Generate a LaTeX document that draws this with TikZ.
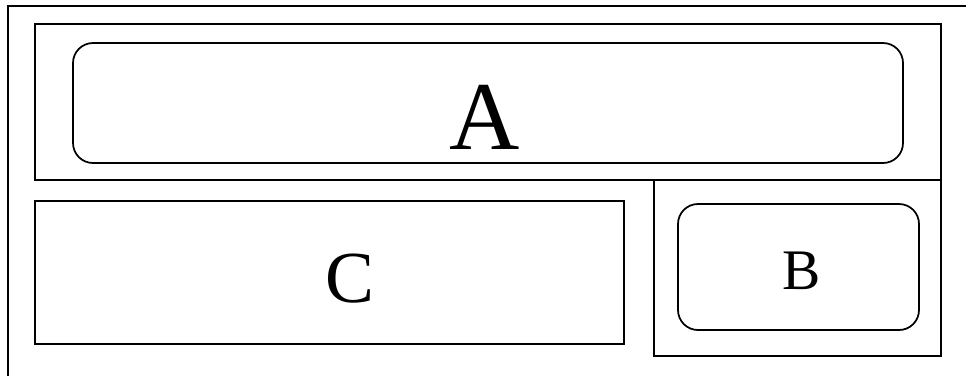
\documentclass[tikz,border=0pt]{standalone}
\usepackage{fontspec}
\setmainfont{Liberation Serif}
\begin{document}
\begin{tikzpicture}[x=0.75pt,y=-0.75pt,line width=1.3pt,
  frame/.style={draw=black},
  roundframe/.style={draw=black,rounded corners=15pt},
  biglabel/.style={inner sep=0pt,font=\fontsize{73}{80}\selectfont},
  midlabel/.style={inner sep=0pt,font=\fontsize{55}{60}\selectfont},
  smalllabel/.style={inner sep=0pt,font=\fontsize{43}{48}\selectfont}]
\useasboundingbox (0,0) rectangle (966,376);
% page border, only left and top edge visible
\draw[frame] (8,376) -- (8,6) -- (966,6);
% top panel with A
\draw[frame] (35,24) rectangle (941,180);
\draw[roundframe] (73,43) rectangle (903,163);
\node[biglabel] (labelA) at (485,117) {A};
% lower left panel with C
\draw[frame] (35,201) rectangle (624,344);
\node[midlabel] (labelC) at (350,279) {C};
% lower right panel with B
\draw[frame] (654,180) rectangle (941,356);
\draw[roundframe] (678,204) rectangle (919,330);
\node[smalllabel] (labelB) at (802,271) {B};
\end{tikzpicture}
\end{document}
